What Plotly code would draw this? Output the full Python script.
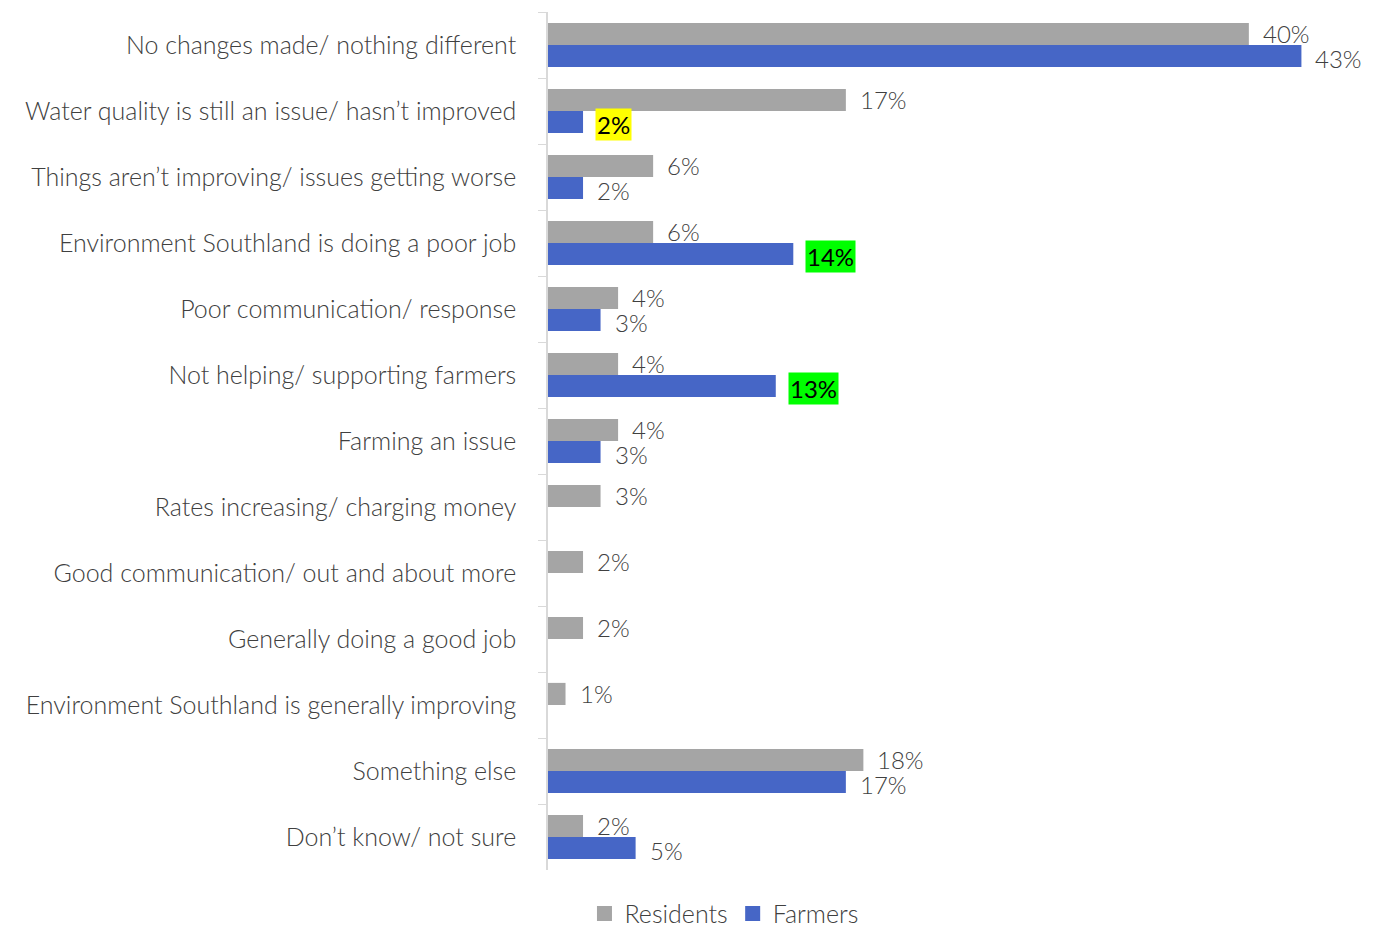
import plotly.graph_objects as go

# Survey responses: reasons given, shown top to bottom
categories = [
    "No changes made/ nothing different",
    "Water quality is still an issue/ hasn’t improved",
    "Things aren’t improving/ issues getting worse",
    "Environment Southland is doing a poor job",
    "Poor communication/ response",
    "Not helping/ supporting farmers",
    "Farming an issue",
    "Rates increasing/ charging money",
    "Good communication/ out and about more",
    "Generally doing a good job",
    "Environment Southland is generally improving",
    "Something else",
    "Don’t know/ not sure",
]
residents = [40, 17, 6, 6, 4, 4, 4, 3, 2, 2, 1, 18, 2]
farmers = [43, 2, 2, 14, 3, 13, 3, None, None, None, None, 17, 5]
# Label highlight colours for farmer results that stand out
farmer_highlight = [None, "#FFFF00", None, "#00FF00", None, "#00FF00",
                    None, None, None, None, None, None, None]

GREY = "#A5A5A5"
BLUE = "#4666C6"
FONT = "Lato"
SIZE = 25
LABEL_SIZE = 24
TEXT = "#404040"

fig = go.Figure()
fig.add_trace(go.Bar(
    name="Residents", y=categories, x=residents, orientation="h",
    marker=dict(color=GREY, line=dict(width=0)), showlegend=False,
))
fig.add_trace(go.Bar(
    name="Farmers", y=categories, x=farmers, orientation="h",
    marker=dict(color=BLUE, line=dict(width=0)), showlegend=False,
))
# Legend keys drawn as larger square swatches
for name, col in (("Residents", GREY), ("Farmers", BLUE)):
    fig.add_trace(go.Scatter(
        name=name, x=[None], y=[None], mode="markers",
        marker=dict(symbol="square", size=15, color=col),
        showlegend=True, hoverinfo="skip",
    ))

annotations = []
for cat, r, f, hl in zip(categories, residents, farmers, farmer_highlight):
    if r is not None:
        annotations.append(dict(
            x=r, y=cat, xref="x", yref="y", text=f"{r}%", showarrow=False,
            xanchor="left", yanchor="middle", xshift=12, yshift=12,
            font=dict(family=FONT, size=LABEL_SIZE, color=TEXT, weight=300),
        ))
    if f is not None:
        ann = dict(
            x=f, y=cat, xref="x", yref="y", text=f"{f}%", showarrow=False,
            xanchor="left", yanchor="middle", xshift=12, yshift=-13,
            font=dict(family=FONT, size=LABEL_SIZE, color=TEXT, weight=300),
        )
        if hl:
            ann["bgcolor"] = hl
            ann["borderpad"] = 1
            ann["font"] = dict(family=FONT, size=LABEL_SIZE, color="#000000", weight=400)
        annotations.append(ann)

fig.update_layout(
    width=1375, height=930,
    margin=dict(l=548, r=7, t=12, b=60, autoexpand=False),
    paper_bgcolor="white", plot_bgcolor="white",
    barmode="group", bargap=0.33, bargroupgap=0,
    font=dict(family=FONT, size=SIZE, color=TEXT, weight=300),
    showlegend=True,
    legend=dict(
        orientation="h", xref="paper", yref="paper",
        x=0.2146, y=-0.051, xanchor="center", yanchor="middle",
        font=dict(family=FONT, size=SIZE, color=TEXT, weight=300),
        itemwidth=30, itemsizing="trace", traceorder="normal",
    ),
    annotations=annotations,
)
fig.update_xaxes(range=[0, 46.8], visible=False, showgrid=False, zeroline=False)
fig.update_yaxes(
    autorange="reversed", type="category",
    showline=True, linecolor="#D9D9D9", linewidth=1.5,
    ticks="outside", tickson="boundaries", ticklen=8, tickcolor="#D9D9D9",
    ticklabelstandoff=25, showgrid=False,
    tickfont=dict(family=FONT, size=SIZE, color=TEXT, weight=300),
)

fig.write_html("out.html")
